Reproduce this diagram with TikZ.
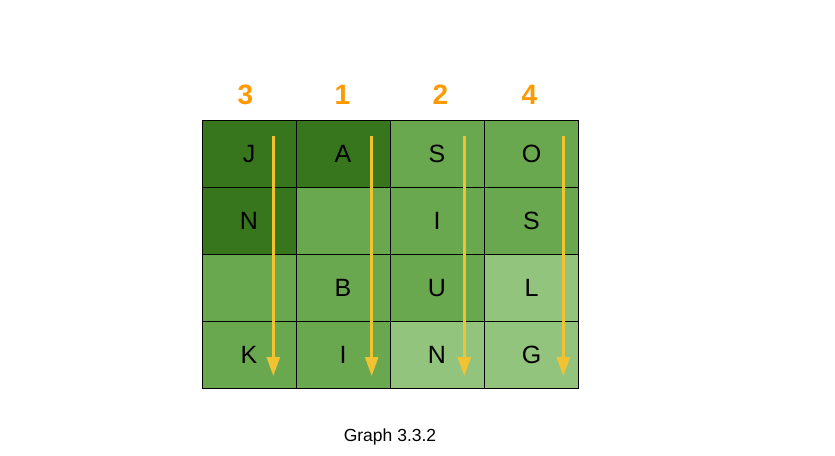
\documentclass[tikz,border=0pt]{standalone}
\usepackage{fontspec}
\setmainfont{Liberation Sans}
\usetikzlibrary{arrows.meta}
\definecolor{gdark}{HTML}{38761D}
\definecolor{gmed}{HTML}{6AA84F}
\definecolor{glight}{HTML}{93C47D}
\definecolor{ayellow}{HTML}{F1C232}
\definecolor{norange}{HTML}{FF9900}
\tikzset{
  cell/.style={draw=black, line width=1pt, minimum width=94pt, minimum height=67pt, inner sep=0pt, anchor=north west, font=\fontsize{25}{25}\selectfont},
  colnum/.style={text=norange, font=\bfseries\fontsize{28}{28}\selectfont, inner sep=0pt},
  readarrow/.style={draw=ayellow, line width=2.6pt, -{Triangle[length=19pt,width=13pt]}},
}
\begin{document}
\begin{tikzpicture}[x=1pt,y=-1pt]
\useasboundingbox (0,0) rectangle (835,455);
\fill[white] (0,0) rectangle (835,455);
% row 1
\node[cell, fill=gdark]  (c11) at (201.5,120) {J};
\node[cell, fill=gdark]  (c12) at (295.5,120) {A};
\node[cell, fill=gmed]   (c13) at (389.5,120) {S};
\node[cell, fill=gmed]   (c14) at (484,120) {O};
% row 2
\node[cell, fill=gdark]  (c21) at (201.5,187) {N};
\node[cell, fill=gmed]   (c22) at (295.5,187) {};
\node[cell, fill=gmed]   (c23) at (389.5,187) {I};
\node[cell, fill=gmed]   (c24) at (484,187) {S};
% row 3
\node[cell, fill=gmed]   (c31) at (201.5,254) {};
\node[cell, fill=gmed]   (c32) at (295.5,254) {B};
\node[cell, fill=gmed]   (c33) at (389.5,254) {U};
\node[cell, fill=glight] (c34) at (484,254) {L};
% row 4
\node[cell, fill=gmed]   (c41) at (201.5,321) {K};
\node[cell, fill=gmed]   (c42) at (295.5,321) {I};
\node[cell, fill=glight] (c43) at (389.5,321) {N};
\node[cell, fill=glight] (c44) at (484,321) {G};
% column numbers
\node[colnum] (n1) at (245.5,95) {3};
\node[colnum] (n2) at (342.5,95) {1};
\node[colnum] (n3) at (440.5,95) {2};
\node[colnum] (n4) at (529.5,95) {4};
% arrows
\coordinate (s1) at (273.3,135.5); \coordinate (e1) at (273.3,376);
\coordinate (s2) at (371.7,135.5); \coordinate (e2) at (371.7,376);
\coordinate (s3) at (464.3,135.5); \coordinate (e3) at (464.3,376);
\coordinate (s4) at (563.3,135.5); \coordinate (e4) at (563.3,376);
\draw[readarrow] (s1) -- (e1);
\draw[readarrow] (s2) -- (e2);
\draw[readarrow] (s3) -- (e3);
\draw[readarrow] (s4) -- (e4);
% caption
\node[font=\fontsize{17.5}{18}\selectfont, inner sep=0pt] (cap) at (390,437) {Graph 3.3.2};
\end{tikzpicture}
\end{document}
